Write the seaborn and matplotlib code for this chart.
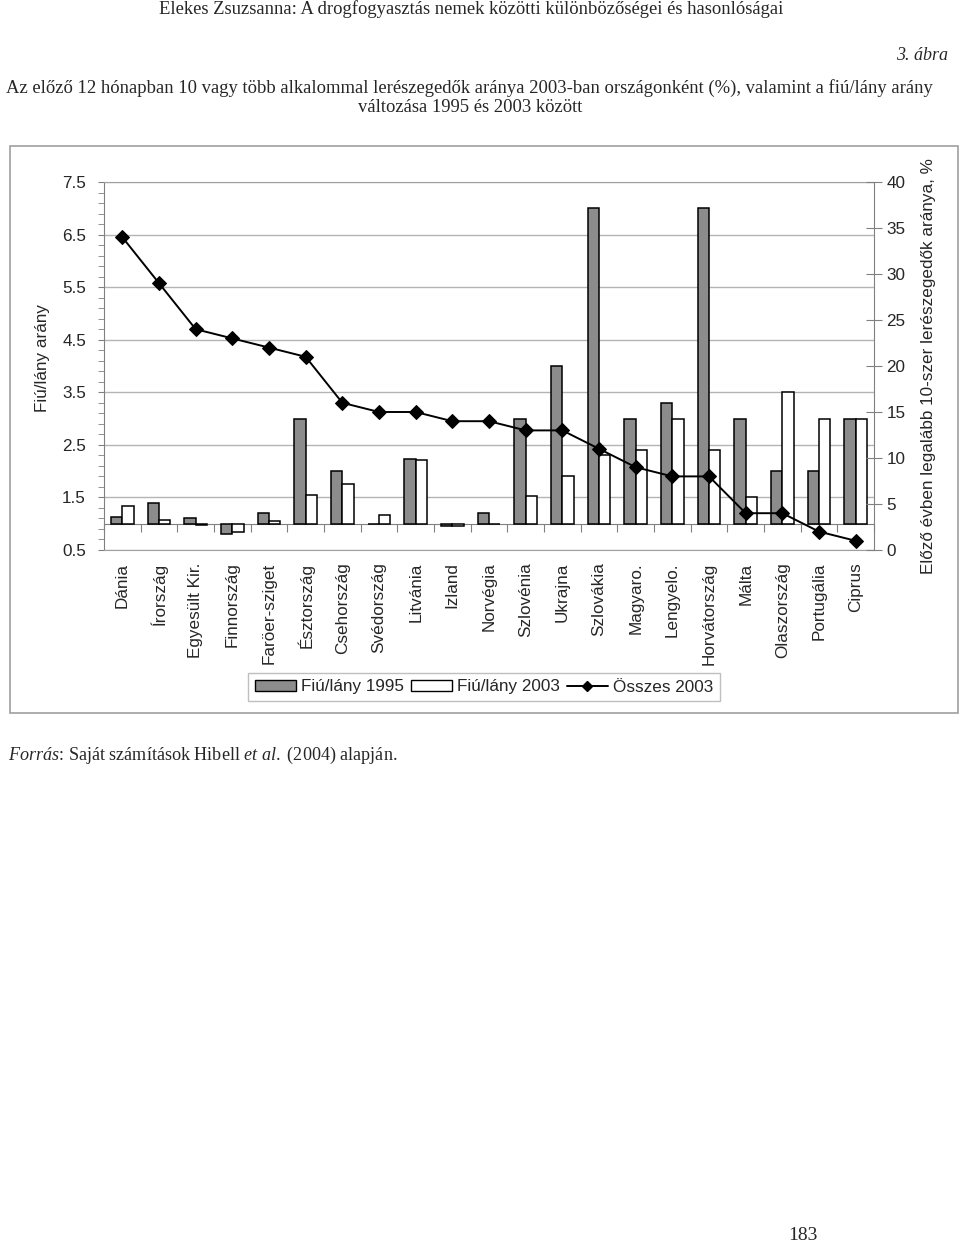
import numpy as np
import pandas as pd
import matplotlib
matplotlib.use("Agg")
import matplotlib.pyplot as plt
from matplotlib.patches import Rectangle, Patch
from matplotlib.lines import Line2D
from matplotlib.ticker import MultipleLocator
import seaborn as sns

# =========================================
# DATA
# =========================================
countries = ["Dánia", "Írország", "Egyesült Kir.", "Finnország", "Faröer-sziget",
             "Észtország", "Csehország", "Svédország", "Litvánia", "Izland",
             "Norvégia", "Szlovénia", "Ukrajna", "Szlovákia", "Magyaro.",
             "Lengyelo.", "Horvátország", "Málta", "Olaszország", "Portugália",
             "Ciprus"]
ratio_1995 = [1.13, 1.39, 1.10, 0.81, 1.21, 3.0, 2.0, 1.0, 2.24, 0.95, 1.21,
              3.0, 4.0, 7.0, 3.0, 3.3, 7.0, 3.0, 2.0, 2.0, 3.0]
ratio_2003 = [1.33, 1.08, 0.97, 0.84, 1.06, 1.55, 1.76, 1.16, 2.22, 0.95, 1.0,
              1.52, 1.9, 2.3, 2.4, 3.0, 2.4, 1.51, 3.51, 3.0, 3.0]
total_2003 = [34, 29, 24, 23, 22, 21, 16, 15, 15, 14, 14, 13, 13, 11, 9, 8, 8,
              4, 4, 2, 1]
series_names = ["Fiú/lány 1995", "Fiú/lány 2003"]
line_name = "Összes 2003"

n = len(countries)
df = pd.DataFrame({
    "Ország": countries * 2,
    "Sorozat": [series_names[0]] * n + [series_names[1]] * n,
    "arány": ratio_1995 + ratio_2003,
})
df["delta"] = df["arány"] - 1  # bars hang from the 1.0 line

# =========================================
# STYLE
# =========================================
sns.set_style("white")
plt.rcParams["font.family"] = ["Liberation Sans", "DejaVu Sans"]
plt.rcParams["mathtext.fontset"] = "custom"
plt.rcParams["mathtext.rm"] = "Liberation Serif"
plt.rcParams["mathtext.it"] = "Liberation Serif:italic"
serif = ["Liberation Serif", "DejaVu Serif"]

fs = 12.3
gray_fill = "#8c8c8c"
axis_col = "#808080"
grid_col = "#b4b4b4"

W, H = 960, 1244
fig = plt.figure(figsize=(W / 100, H / 100), dpi=100)


def fx(x):
    return x / W


def fy(y):
    return 1 - y / H


ax = fig.add_axes([fx(104), fy(550), (874 - 104) / W, (550 - 182) / H])

# =========================================
# BARS
# =========================================
sns.barplot(data=df, x="Ország", y="delta", hue="Sorozat",
            palette={series_names[0]: gray_fill, series_names[1]: "white"},
            saturation=1, width=0.62, edgecolor="black", linewidth=1.1,
            bottom=1, errorbar=None, legend=False, ax=ax, zorder=2)

ax.set_ylim(0.5, 7.5)
ax.set_yticks(np.arange(0.5, 7.6, 1.0))
ax.set_yticklabels([f"{v:.1f}" for v in np.arange(0.5, 7.6, 1.0)])
ax.yaxis.set_minor_locator(MultipleLocator(0.2, offset=0.5))
ax.grid(axis="y", which="major", color=grid_col, lw=1)
ax.set_axisbelow(True)
ax.set_xlabel("")
ax.set_ylabel("")
ax.set_xticks(range(n))
ax.set_xticklabels(countries, rotation=90)
ax.tick_params(axis="x", length=0, pad=9, labelsize=fs)
ax.tick_params(axis="y", which="both", direction="out", length=4,
               color=axis_col, labelsize=fs, pad=9)
for side in ["top", "bottom"]:
    ax.spines[side].set_color("#a0a0a0")
ax.spines["left"].set_color(axis_col)
ax.spines["right"].set_visible(False)

# horizontal category axis crossing at 1.0
sec = ax.secondary_xaxis((1 - 0.5) / (7.5 - 0.5))
sec.set_alignment("bottom")
sec.set_xticks(np.arange(n + 1) - 0.5)
sec.set_xticklabels([])
sec.tick_params(axis="x", direction="out", length=6, color=axis_col)
for side, sp in sec.spines.items():
    sp.set_color(axis_col)

# =========================================
# LINE (right axis)
# =========================================
ax2 = ax.twinx()
sns.lineplot(x=np.arange(n), y=total_2003, ax=ax2, color="black", lw=1.4,
             marker="D", markersize=7, markeredgecolor="black", legend=False)
ax2.set_ylim(0, 40)
ax2.set_yticks(np.arange(0, 41, 5))
ax2.set_xlabel("")
ax2.set_ylabel("")
ax2.tick_params(axis="y", direction="inout", length=12, color=axis_col,
                labelsize=fs, pad=3)
for side in ["top", "bottom", "left"]:
    ax2.spines[side].set_visible(False)
ax2.spines["right"].set_color(axis_col)
ax.set_xlim(-0.5, n - 0.5)

# axis titles
fig.text(fx(42), fy(358), "Fiú/lány arány", rotation=90, ha="center",
         va="center", fontsize=fs)
fig.text(fx(928), fy(366), "Előző évben legalább 10-szer lerészegedők aránya, %",
         rotation=90, ha="center", va="center", fontsize=fs)

# legend
handles = [Patch(facecolor=gray_fill, edgecolor="black", lw=1),
           Patch(facecolor="white", edgecolor="black", lw=1),
           Line2D([], [], color="black", lw=1.4, marker="D", markersize=5)]
fig.legend(handles, series_names + [line_name], loc="center",
           bbox_to_anchor=(fx(484), fy(687)), ncol=3, frameon=True,
           fancybox=False, edgecolor="#b0b0b0", fontsize=fs, handlelength=2.4,
           handleheight=0.6, handletextpad=0.3, columnspacing=0.4,
           borderpad=0.4)

# chart frame
fig.add_artist(Rectangle((fx(10), fy(713)), (958 - 10) / W, (713 - 146) / H,
                         transform=fig.transFigure, fill=False,
                         edgecolor="#a0a0a0", lw=1.2))

# =========================================
# PAGE TEXT
# =========================================
fig.text(fx(471), fy(9), "Elekes Zsuzsanna: A drogfogyasztás nemek közötti "
         "különbözőségei és hasonlóságai", ha="center", va="center",
         fontsize=13.4, family=serif)
fig.text(fx(948), fy(55), "3. ábra", ha="right", va="center", fontsize=13,
         family=serif, style="italic")
fig.text(fx(469), fy(88), "Az előző 12 hónapban 10 vagy több alkalommal "
         "lerészegedők aránya 2003-ban országonként (%), valamint a fiú/lány arány",
         ha="center", va="center", fontsize=13.4, family=serif)
fig.text(fx(470), fy(108), "változása 1995 és 2003 között", ha="center",
         va="center", fontsize=13.4, family=serif)
fig.text(fx(8), fy(755), r"$\mathit{Forrás}$: Saját számítások Hibell "
         r"$\mathit{et\ al.}$ (2004) alapján.", ha="left", va="center",
         fontsize=13.1, family=serif)
fig.text(fx(803), fy(1235), "183", ha="center", va="center", fontsize=14,
         family=serif)

fig.savefig("out.png", dpi=100)
